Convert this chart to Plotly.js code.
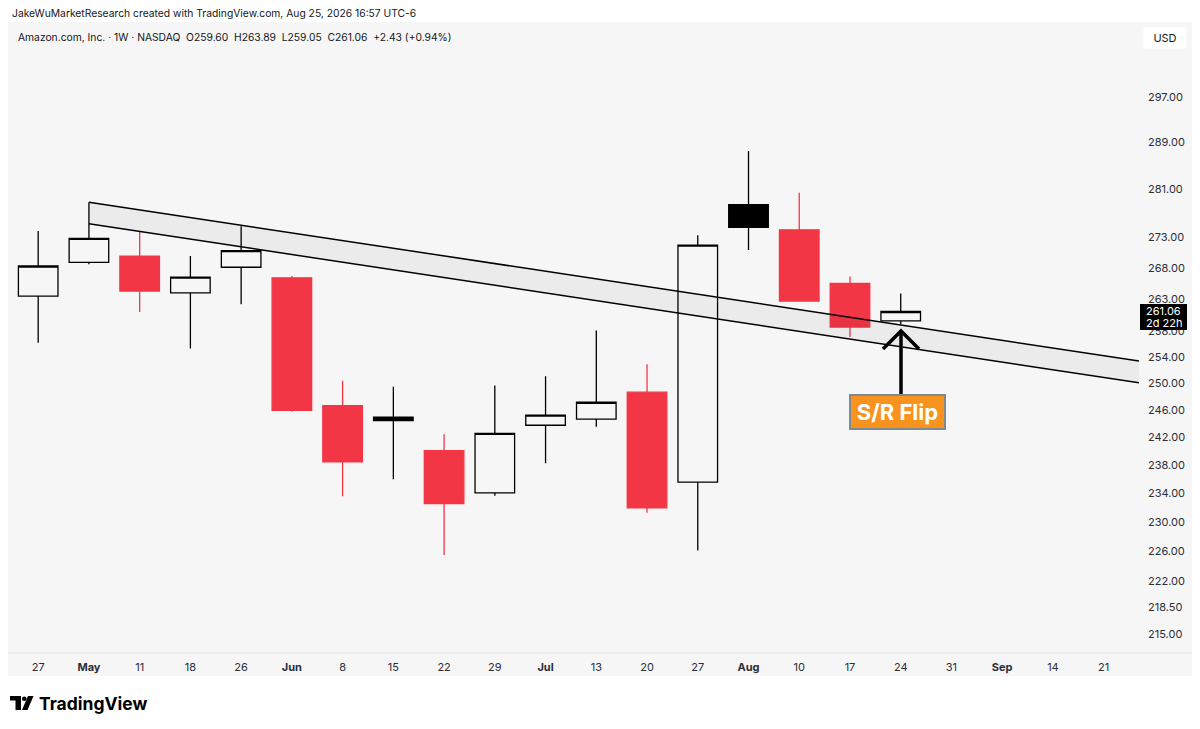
<!DOCTYPE html>
<html><head><meta charset="utf-8">
<script src="https://cdn.plot.ly/plotly-3.0.1.min.js"></script>
<style>html,body{margin:0;padding:0;background:#fff;}#chart{width:1200px;height:729px;}</style>
</head><body><div id="chart"></div>
<script>
// ---- data (weekly candles, AMZN) ----
const weeks = ['2026-04-27','2026-05-04','2026-05-11','2026-05-18','2026-05-25','2026-06-01','2026-06-08','2026-06-15','2026-06-22','2026-06-29','2026-07-06','2026-07-13','2026-07-20','2026-07-27','2026-08-03','2026-08-10','2026-08-17','2026-08-24'];
const openP  = [263.5,268.9,269.9,264.0,268.1,266.4,246.7,245.0,240.1,234.1,243.8,244.7,248.7,235.6,278.4,274.2,265.5,259.60];
const highP  = [274.0,278.8,273.9,269.9,274.8,266.7,250.4,249.5,242.5,249.7,251.1,258.1,252.9,273.3,287.5,280.4,266.6,263.89];
const lowP   = [256.2,268.6,261.0,255.3,262.2,245.8,233.6,236.0,225.5,233.7,238.3,243.6,231.3,226.1,270.9,262.6,257.1,259.05];
const closeP = [268.3,272.8,264.3,266.5,270.8,246.0,238.5,244.5,232.6,242.6,245.3,247.2,232.0,271.7,274.6,262.7,258.63,261.06];

const tickDates  = ['2026-04-27','2026-05-04','2026-05-11','2026-05-18','2026-05-25','2026-06-01','2026-06-08','2026-06-15','2026-06-22','2026-06-29','2026-07-06','2026-07-13','2026-07-20','2026-07-27','2026-08-03','2026-08-10','2026-08-17','2026-08-24','2026-08-31','2026-09-07','2026-09-14','2026-09-21'];
const tickLabels = ['27','May','11','18','26','Jun','8','15','22','29','Jul','13','20','27','Aug','10','17','24','31','Sep','14','21'];
const monthLabels = ['May','Jun','Jul','Aug','Sep'];
const priceTicks = [297,289,281,273,268,263,258,254,250,246,242,238,234,230,226,222,218.5,215];

const channelX     = ['2026-05-04','2026-09-25 21:00'];
const channelUpper = [278.8, 253.4];
const channelLower = [275.2, 250.1];

const headerTop = 'JakeWuMarketResearch created with TradingView.com, Aug 25, 2026 16:57 UTC-6';
const legendLine = 'Amazon.com, Inc. · 1W · NASDAQ\u00a0\u00a0O259.60\u00a0\u00a0H263.89\u00a0\u00a0L259.05\u00a0\u00a0C261.06\u00a0\u00a0+2.43 (+0.94%)';
const lastPriceText = '261.06';
const countdownText = '2d 22h';

// ---- layout helpers (pixel -> paper) ----
const L = 9, R = 1139, T = 22, B = 653;
const px = x => (x - L) / (R - L);
const py = y => (B - y) / (B - T);

const RED = '#F23645', FONT = 'Inter, "Liberation Sans", Arial, sans-serif';

const isRed = closeP.map((c, i) => i > 0 && c < closeP[i - 1]);
const pick = (arr, red) => arr.filter((_, i) => isRed[i] === red);

function candle(red) {
  const col = red ? RED : '#000000';
  return {
    type: 'candlestick',
    x: pick(weeks, red), open: pick(openP, red), high: pick(highP, red),
    low: pick(lowP, red), close: pick(closeP, red),
    increasing: {line: {color: col, width: 1.3}, fillcolor: 'rgba(0,0,0,0)'},
    decreasing: {line: {color: col, width: 1.3}, fillcolor: col},
    whiskerwidth: 0, hoverinfo: 'skip', showlegend: false
  };
}

const band = {
  type: 'scatter', mode: 'lines',
  x: [channelX[0], channelX[1], channelX[1], channelX[0], channelX[0]],
  y: [channelUpper[0], channelUpper[1], channelLower[1], channelLower[0], channelUpper[0]],
  fill: 'toself', fillcolor: 'rgba(0,0,0,0.045)', line: {width: 0},
  hoverinfo: 'skip', showlegend: false
};
const upper = {type: 'scatter', mode: 'lines', x: channelX, y: channelUpper,
  line: {color: '#000', width: 1.5}, hoverinfo: 'skip', showlegend: false};
const lower = {type: 'scatter', mode: 'lines', x: channelX, y: channelLower,
  line: {color: '#000', width: 1.5}, hoverinfo: 'skip', showlegend: false};

const ticktext = tickLabels.map(t => monthLabels.includes(t) ? '<b>' + t + '</b>' : t);

const layout = {
  width: 1200, height: 729,
  margin: {l: L, r: 1200 - R, t: T, b: 729 - B},
  paper_bgcolor: '#ffffff', plot_bgcolor: 'rgba(0,0,0,0)',
  showlegend: false, boxgap: 0.22, boxgroupgap: 0, boxmode: 'overlay',
  font: {family: FONT, color: '#131722', size: 11},
  xaxis: {
    type: 'date', range: ['2026-04-22 23:20', '2026-09-25 21:00'], autorange: false,
    rangeslider: {visible: false}, showgrid: false, zeroline: false, showline: false,
    tickmode: 'array', tickvals: tickDates, ticktext: ticktext, ticks: '',
    tickfont: {family: FONT, size: 11, color: '#2a2e39'}, ticklabelstandoff: 6, fixedrange: true
  },
  yaxis: {
    type: 'log', side: 'right',
    range: [Math.log10(212.6), Math.log10(310.7)], autorange: false,
    showgrid: false, zeroline: false, showline: false,
    tickmode: 'array', tickvals: priceTicks, tickformat: '.2f', ticks: '',
    tickfont: {family: FONT, size: 11, color: '#2a2e39'}, ticklabelstandoff: 8, fixedrange: true
  },
  shapes: [
    {type: 'rect', xref: 'paper', yref: 'paper', x0: px(8), x1: px(1192), y0: py(676), y1: py(22),
     fillcolor: '#F6F6F6', line: {width: 0}, layer: 'below'},
    {type: 'line', xref: 'paper', yref: 'paper', x0: px(8), x1: px(1192), y0: py(653), y1: py(653),
     line: {color: '#E3E3E3', width: 1.2}, layer: 'below'},
    // last price label box
    {type: 'rect', xref: 'paper', yref: 'paper', x0: px(1140), x1: px(1187), y0: py(330), y1: py(304),
     fillcolor: '#000', line: {width: 0}},
    // arrow (drawing annotation)
    {type: 'line', xref: 'paper', yref: 'paper', x0: px(901), x1: px(901), y0: py(394), y1: py(332),
     line: {color: '#000', width: 3.5}},
    {type: 'path', xref: 'paper', yref: 'paper',
     path: `M ${px(883)},${py(349)} L ${px(901)},${py(331)} L ${px(919)},${py(349)}`,
     line: {color: '#000', width: 3.5}},
    // TradingView logo
    {type: 'rect', xref: 'paper', yref: 'paper', x0: px(10), x1: px(21), y0: py(700.5), y1: py(696),
     fillcolor: '#000', line: {width: 0}},
    {type: 'rect', xref: 'paper', yref: 'paper', x0: px(15.5), x1: px(21), y0: py(710), y1: py(696),
     fillcolor: '#000', line: {width: 0}},
    {type: 'circle', xref: 'paper', yref: 'paper', x0: px(22), x1: px(26.6), y0: py(701), y1: py(696.4),
     fillcolor: '#000', line: {width: 0}},
    {type: 'path', xref: 'paper', yref: 'paper',
     path: `M ${px(28)},${py(696)} L ${px(33.5)},${py(696)} L ${px(27.5)},${py(710)} L ${px(22)},${py(710)} Z`,
     fillcolor: '#000', line: {width: 0}}
  ],
  annotations: [
    {xref: 'paper', yref: 'paper', x: px(10), y: py(13), xanchor: 'left', yanchor: 'middle',
     text: headerTop, showarrow: false, font: {family: FONT, size: 10.3, color: '#131722'}},
    {xref: 'paper', yref: 'paper', x: px(16), y: py(37), xanchor: 'left', yanchor: 'middle',
     text: legendLine, showarrow: false, font: {family: FONT, size: 10.3, color: '#131722'}},
    {xref: 'paper', yref: 'paper', x: px(1165), y: py(38), xanchor: 'center', yanchor: 'middle',
     text: 'USD', showarrow: false, bgcolor: '#ffffff', width: 40, height: 18, borderpad: 1,
     font: {family: FONT, size: 11, color: '#131722'}},
    {xref: 'paper', yref: 'paper', x: px(1163.5), y: py(311), xanchor: 'center', yanchor: 'middle',
     text: lastPriceText, showarrow: false, font: {family: FONT, size: 11, color: '#ffffff'}},
    {xref: 'paper', yref: 'paper', x: px(1163.5), y: py(323), xanchor: 'center', yanchor: 'middle',
     text: countdownText, showarrow: false, font: {family: FONT, size: 11, color: '#ffffff'}},
    {xref: 'paper', yref: 'paper', x: px(897), y: py(411.7), xanchor: 'center', yanchor: 'middle',
     text: '<b>S/R Flip</b>', showarrow: false, bgcolor: '#F7931E', bordercolor: '#7D8A90',
     borderwidth: 2, borderpad: 0, width: 93, height: 32,
     font: {family: FONT, size: 22, color: '#ffffff'}},
    {xref: 'paper', yref: 'paper', x: px(37), y: py(703), xanchor: 'left', yanchor: 'middle',
     text: '<b>TradingView</b>', showarrow: false, font: {family: FONT, size: 17.5, color: '#000000'}}
  ]
};

Plotly.newPlot('chart', [candle(false), candle(true), band, upper, lower], layout,
  {displayModeBar: false, staticPlot: true});
</script></body></html>
